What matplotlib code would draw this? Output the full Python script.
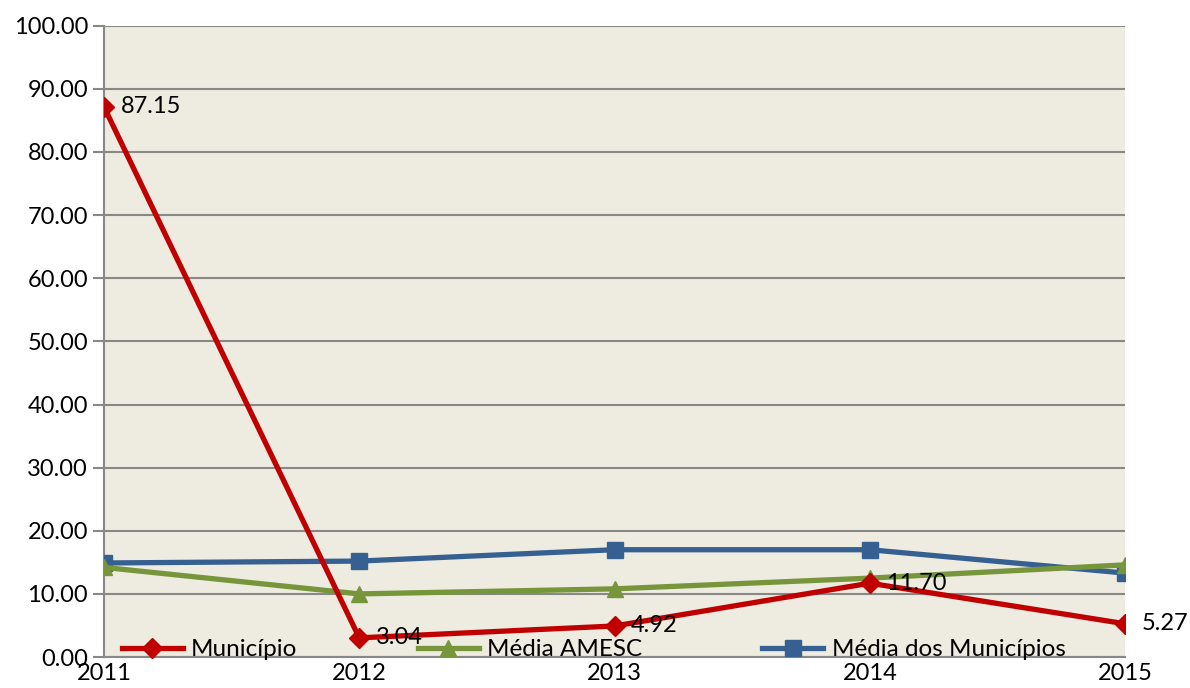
import numpy as np
import matplotlib.pyplot as plt

plt.rcParams['font.family'] = ['Lato', 'DejaVu Sans']

anos = ['2011', '2012', '2013', '2014', '2015']
municipio = [87.15, 3.04, 4.92, 11.70, 5.27]
media_amesc = [14.2, 10.0, 10.8, 12.5, 14.6]
media_municipios = [14.9, 15.2, 17.0, 17.0, 13.3]

fig = plt.figure(figsize=(11.9, 6.88), dpi=100)
ax = fig.add_axes([0.0874, 0.045, 0.858, 0.9176])
ax.set_facecolor('#EEEBE0')

x = np.arange(len(anos))
ax.plot(x, municipio, color='#C00000', lw=3.8, marker='D', ms=10, label='Município', zorder=5)
ax.plot(x, media_amesc, color='#77953B', lw=3.8, marker='^', ms=11, label='Média AMESC', zorder=4)
ax.plot(x, media_municipios, color='#376092', lw=3.8, marker='s', ms=11, label='Média dos Municípios', zorder=3)

# rótulos de dados
for xi, v in zip(x, municipio):
    ax.annotate('%.2f' % v, (xi, v), xytext=(12, 0), textcoords='offset points',
                va='center', ha='left', fontsize=17, zorder=6)

ax.set_xlim(0, len(anos) - 1)
ax.set_ylim(0, 100)
ax.set_xticks(x)
ax.set_xticklabels(anos)
ax.set_yticks(np.arange(0, 101, 10))
ax.set_yticklabels(['%.2f' % v for v in np.arange(0, 101, 10)])
ax.tick_params(axis='both', labelsize=17, colors='#000000')
ax.tick_params(axis='y', length=8, color='#888888', width=1.5)
ax.tick_params(axis='x', length=0, pad=4)
ax.grid(axis='y', color='#888888', lw=1.5)
ax.set_axisbelow(True)
for s in ['top', 'right']:
    ax.spines[s].set_visible(False)
ax.spines['left'].set_color('#888888')
ax.spines['left'].set_linewidth(1.5)
ax.spines['bottom'].set_color('#888888')
ax.spines['bottom'].set_linewidth(1.5)

leg = ax.legend(loc='lower left', bbox_to_anchor=(-0.004, -0.04), ncol=3, frameon=False,
                fontsize=17.5, handlelength=2.5, columnspacing=4.95, handletextpad=0.35)
leg.set_zorder(7)

fig.savefig('out.png', dpi=100)
